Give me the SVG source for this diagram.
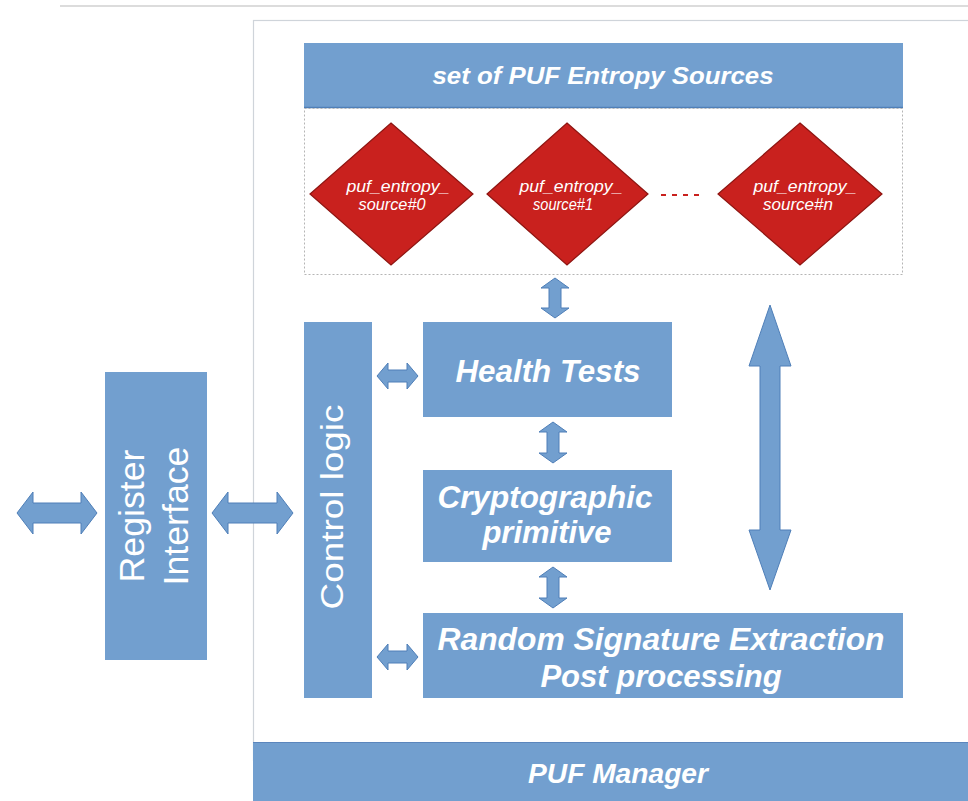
<svg xmlns="http://www.w3.org/2000/svg" width="968" height="801" viewBox="0 0 968 801">
  <style>
    .box { fill: #729fcf; }
    .arrow { fill: #729fcf; stroke: #4f7fb8; stroke-width: 1; }
    .src { fill: #c9211e; stroke: #8e1511; stroke-width: 1.2; }
    .lbl { font-family: "Liberation Sans", Arial, sans-serif; fill: #ffffff; text-anchor: middle; }
    .bi { font-weight: bold; font-style: italic; }
    .small { font-size: 16px; font-style: italic; }
  </style>

  <rect width="968" height="801" fill="#ffffff"/>
  <!-- page rule and outer frame of the manager -->
  <line x1="60" y1="6" x2="968" y2="6" stroke="#dcdcdc" stroke-width="2"/>
  <rect x="253.5" y="20.5" width="720" height="740" fill="none" stroke="#cfd4da" stroke-width="1.2"/>

  <g id="puf-manager">
    <rect class="box" x="253" y="742" width="715" height="59"/>
    <line x1="253" y1="742.5" x2="968" y2="742.5" stroke="#5b86bd"/>
    <text class="lbl bi" x="618" y="783" font-size="27" textLength="180" lengthAdjust="spacingAndGlyphs">PUF Manager</text>
  </g>

  <g id="entropy-sources">
    <rect class="box" x="304" y="43" width="599" height="65"/>
    <line x1="304" y1="107.5" x2="903" y2="107.5" stroke="#4f7fb8" stroke-width="1.5"/>
    <text class="lbl bi" x="603" y="84" font-size="24" textLength="341" lengthAdjust="spacingAndGlyphs">set of PUF Entropy Sources</text>
    <rect x="304.5" y="108.5" width="598" height="166" fill="none" stroke="#b5b5b5" stroke-width="1" stroke-dasharray="2,2"/>
  </g>

  <g id="source-0">
    <polygon class="src" points="391,123 473,194 391,265 310,194"/>
    <text class="lbl small" x="398" y="192" textLength="103" lengthAdjust="spacingAndGlyphs">puf_entropy_</text>
    <text class="lbl small" x="392" y="210" textLength="67" lengthAdjust="spacingAndGlyphs">source#0</text>
  </g>
  <g id="source-1">
    <polygon class="src" points="567,123 648,194 567,265 487,194"/>
    <text class="lbl small" x="571" y="192" textLength="103" lengthAdjust="spacingAndGlyphs">puf_entropy_</text>
    <text class="lbl small" x="563" y="210" textLength="60" lengthAdjust="spacingAndGlyphs">source#1</text>
  </g>
  <g id="source-ellipsis">
    <line x1="661" y1="195" x2="701" y2="195" stroke="#c9211e" stroke-width="2" stroke-dasharray="5,6"/>
  </g>
  <g id="source-n">
    <polygon class="src" points="800,123 882,194 800,265 718,194"/>
    <text class="lbl small" x="805" y="192" textLength="103" lengthAdjust="spacingAndGlyphs">puf_entropy_</text>
    <text class="lbl small" x="798" y="210" textLength="70" lengthAdjust="spacingAndGlyphs">source#n</text>
  </g>

  <g id="register-interface">
    <rect class="box" x="105" y="372" width="102" height="288"/>
    <g transform="translate(156,516) rotate(-90)">
      <text class="lbl" font-size="35" y="-12" textLength="133" lengthAdjust="spacingAndGlyphs">Register</text>
      <text class="lbl" font-size="35" y="32" textLength="139" lengthAdjust="spacingAndGlyphs">Interface</text>
    </g>
  </g>

  <g id="control-logic">
    <rect class="box" x="304" y="322" width="68" height="376"/>
    <text class="lbl" font-size="32" transform="translate(338,507) rotate(-90)" y="5" textLength="205" lengthAdjust="spacingAndGlyphs">Control logic</text>
  </g>

  <g id="health-tests">
    <rect class="box" x="423" y="322" width="249" height="95"/>
    <text class="lbl bi" x="548" y="382" font-size="31" textLength="185" lengthAdjust="spacingAndGlyphs">Health Tests</text>
  </g>

  <g id="crypto-primitive">
    <rect class="box" x="423" y="470" width="249" height="92"/>
    <text class="lbl bi" x="545" y="508" font-size="31" textLength="215" lengthAdjust="spacingAndGlyphs">Cryptographic</text>
    <text class="lbl bi" x="547" y="543" font-size="31">primitive</text>
  </g>

  <g id="signature-extraction">
    <rect class="box" x="423" y="613" width="480" height="85"/>
    <text class="lbl bi" x="661" y="650" font-size="31" textLength="447" lengthAdjust="spacingAndGlyphs">Random Signature Extraction</text>
    <text class="lbl bi" x="661" y="687" font-size="31">Post processing</text>
  </g>

  <g id="connectors">
    <!-- external bus to register interface -->
    <polygon class="arrow" points="17,513 33,492 33,503 81,503 81,492 97,513 81,534 81,523 33,523 33,534"/>
    <!-- register interface to control logic -->
    <polygon class="arrow" points="212,513 228,492 228,503 277,503 277,492 293,513 277,534 277,523 228,523 228,534"/>
    <!-- control logic to health tests -->
    <polygon class="arrow" points="377,376 388,363 388,370 407,370 407,363 418,376 407,389 407,382 388,382 388,389"/>
    <!-- control logic to post processing -->
    <polygon class="arrow" points="377,657 388,644 388,651 407,651 407,644 418,657 407,670 407,663 388,663 388,670"/>
    <!-- sources to health tests -->
    <polygon class="arrow" points="555,278 569,288 561,288 561,308 569,308 555,318 541,308 549,308 549,288 541,288"/>
    <!-- health tests to crypto primitive -->
    <polygon class="arrow" points="553,422 567,432 559,432 559,453 567,453 553,463 539,453 547,453 547,432 539,432"/>
    <!-- crypto primitive to post processing -->
    <polygon class="arrow" points="553,567 567,577 559,577 559,598 567,598 553,608 539,598 547,598 547,577 539,577"/>
    <!-- sources to post processing -->
    <polygon class="arrow" points="770,305 791,366 780,366 780,530 791,530 770,590 749,530 760,530 760,366 749,366"/>
  </g>
</svg>
